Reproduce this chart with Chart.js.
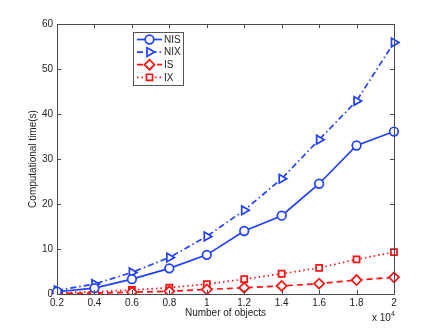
<!DOCTYPE html>
<html>
<head>
<meta charset="utf-8">
<script src="https://cdn.jsdelivr.net/npm/chart.js@4/dist/chart.umd.min.js"></script>
<style>
html,body{margin:0;padding:0;background:#fff;}
#wrap{width:436px;height:331px;}
</style>
</head>
<body>
<div id="wrap"><canvas id="c" width="436" height="331"></canvas></div>
<script>
const categories = ['0.2','0.4','0.6','0.8','1','1.2','1.4','1.6','1.8','2'];
const seriesNames = ['NIS','NIX','IS','IX'];
const nisValues = [0.5, 1.3, 3.3, 5.7, 8.7, 14.0, 17.4, 24.5, 33.0, 36.1];
const nixValues = [0.8, 2.2, 4.8, 8.1, 12.8, 18.6, 25.6, 34.3, 42.9, 55.9];
const isValues  = [0.1, 0.2, 0.4, 0.6, 1.0, 1.4, 1.8, 2.3, 3.1, 3.7];
const ixValues  = [0.2, 0.5, 0.9, 1.4, 2.2, 3.3, 4.5, 5.8, 7.7, 9.3];
const yTickLabels = ['0','10','20','30','40','50','60'];
const xTitle = 'Number of objects';
const yTitle = 'Computational time(s)';
const xExponentBase = 'x 10';
const xExponent = '4';

const BLUE = '#2040ff';
const RED = '#ff1010';
const FONT = '"Liberation Sans", Arial, sans-serif';
const AXIS = '#4a4a4a';

function ds(label, data, color, dash, style, rot, r) {
  return {
    label, data,
    borderColor: color, backgroundColor: color,
    borderWidth: 1.7, borderDash: dash,
    pointStyle: style, pointRotation: rot, pointRadius: r,
    pointBorderColor: color, pointBackgroundColor: '#ffffff',
    pointBorderWidth: 1.7, tension: 0, fill: false
  };
}

const frame = {
  id: 'frame',
  afterDatasetsDraw(chart) {
    const {ctx, chartArea: a, scales: {x, y}} = chart;
    ctx.save();
    ctx.strokeStyle = AXIS; ctx.lineWidth = 1;
    ctx.strokeRect(Math.round(a.left)+0.5, Math.round(a.top)+0.5, Math.round(a.right-a.left), Math.round(a.bottom-a.top));
    const tl = 4;
    ctx.beginPath();
    x.ticks.forEach((t, i) => {
      const px = Math.round(x.getPixelForTick(i)) + 0.5;
      ctx.moveTo(px, a.bottom); ctx.lineTo(px, a.bottom - tl);
      ctx.moveTo(px, a.top); ctx.lineTo(px, a.top + tl);
    });
    y.ticks.forEach((t) => {
      const py = Math.round(y.getPixelForValue(t.value)) + 0.5;
      ctx.moveTo(a.left, py); ctx.lineTo(a.left + tl, py);
      ctx.moveTo(a.right, py); ctx.lineTo(a.right - tl, py);
    });
    ctx.stroke();
    // exponent label
    ctx.fillStyle = '#222';
    ctx.font = '10px ' + FONT;
    ctx.textBaseline = 'alphabetic'; ctx.textAlign = 'left';
    ctx.fillText(xExponentBase, a.right - 22, a.bottom + 27);
    ctx.font = '7px ' + FONT;
    ctx.fillText(xExponent, a.right - 3, a.bottom + 22);
    // legend
    const bx = 133, by = 32, bw = 50, bh = 53;
    ctx.fillStyle = '#fff';
    ctx.fillRect(bx, by, bw, bh);
    ctx.strokeStyle = '#555'; ctx.lineWidth = 1;
    ctx.strokeRect(bx + 0.5, by + 0.5, bw, bh);
    chart.data.datasets.forEach((d, i) => {
      const cy = by + 7.5 + i * 12.6;
      ctx.save();
      ctx.strokeStyle = d.borderColor; ctx.lineWidth = d.borderWidth;
      ctx.setLineDash(d.borderDash || []);
      ctx.beginPath(); ctx.moveTo(bx + 4, cy); ctx.lineTo(bx + 29, cy); ctx.stroke();
      ctx.setLineDash([]);
      ctx.fillStyle = '#fff';
      Chart.helpers.drawPoint(ctx, {pointStyle: d.pointStyle, rotation: d.pointRotation, radius: d.pointRadius, borderWidth: d.pointBorderWidth}, bx + 16.5, cy);
      ctx.restore();
      ctx.fillStyle = '#222';
      ctx.font = '10px ' + FONT;
      ctx.textBaseline = 'middle'; ctx.textAlign = 'left';
      ctx.fillText(d.label, bx + 31, cy + 0.5);
    });
    ctx.restore();
  }
};

new Chart(document.getElementById('c'), {
  type: 'line',
  data: {
    labels: categories,
    datasets: [
      ds(seriesNames[0], nisValues, BLUE, [], 'circle', 0, 4.3),
      ds(seriesNames[1], nixValues, BLUE, [6, 3, 1.5, 3], 'triangle', 90, 5),
      ds(seriesNames[2], isValues, RED, [6, 4], 'rectRot', 0, 5),
      ds(seriesNames[3], ixValues, RED, [1.5, 3], 'rect', 0, 4.3)
    ]
  },
  options: {
    responsive: false, animation: false,
    layout: {padding: {top: 24, right: 42, left: 0, bottom: 0}},
    plugins: {legend: {display: false}, tooltip: {enabled: false}},
    scales: {
      x: {
        type: 'category', offset: false,
        grid: {display: false, drawTicks: false},
        border: {display: false},
        ticks: {color: '#222', font: {family: FONT, size: 10}, padding: 3, maxRotation: 0, autoSkip: false},
        title: {display: true, text: xTitle, color: '#222', font: {family: FONT, size: 10}, padding: {top: 1, bottom: 12}},
        afterFit(s) { s.height = 37; }
      },
      y: {
        min: 0, max: 60,
        grid: {display: false, drawTicks: false},
        border: {display: false},
        ticks: {stepSize: 10, color: '#222', font: {family: FONT, size: 10}, padding: 4,
          callback: (v, i) => yTickLabels[i]},
        title: {display: true, text: yTitle, color: '#222', font: {family: FONT, size: 10}, padding: {top: 27, bottom: 0}},
        afterFit(s) { s.width = 57; }
      }
    }
  },
  plugins: [frame]
});
</script>
</body>
</html>
